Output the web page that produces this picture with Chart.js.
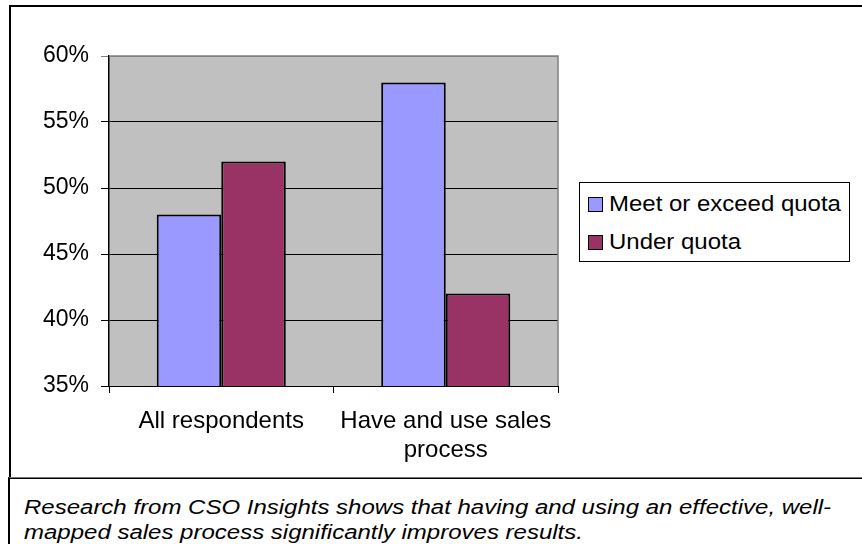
<!DOCTYPE html>
<html>
<head>
<meta charset="utf-8">
<script src="https://cdn.jsdelivr.net/npm/chart.js@4.4.0/dist/chart.umd.min.js"></script>
<style>
  body { margin: 0; background: #fff; width: 862px; height: 544px; overflow: hidden; position: relative;
         font-family: "Liberation Sans", Arial, sans-serif; }
  #frame { position: absolute; left: 9px; top: 5px; width: 870px; height: 470px; border: 2px solid #000; border-right: none; }
  #captionBox { position: absolute; left: 8px; top: 477px; width: 870px; height: 80px; border-left: 2px solid #000; border-top: 1px solid #777; }
  #caption { position: absolute; left: 24px; top: 495px; font-style: italic; font-size: 20px; line-height: 25px; color: #000;
             white-space: nowrap; transform: scaleX(1.2); transform-origin: 0 0; }
  #chartWrap { position: absolute; left: 0; top: 0; width: 862px; height: 476px; }
  #legend { position: absolute; left: 579px; top: 182px; width: 269px; height: 78px; border: 1px solid #000; background: #fff; }
  .item { position: absolute; left: 8px; height: 24px; line-height: 24px; font-size: 22px; color: #000; white-space: nowrap; }
  .swatch { display: inline-block; width: 13px; height: 13px; border: 1px solid #000; vertical-align: -1px; margin-right: 6px; }
  .txt { display: inline-block; transform: scaleX(1.09); transform-origin: 0 50%; }
</style>
</head>
<body>
<div id="frame"></div>
<div id="captionBox"></div>
<div id="caption">Research from CSO Insights shows that having and using an effective, well-<br>mapped sales process significantly improves results.</div>
<div id="chartWrap"><canvas id="quotaChart" width="862" height="476"></canvas></div>
<div id="legend"></div>
<script>
// Chart data
const categories = ['All respondents', ['Have and use sales', 'process']];
const seriesNames = ['Meet or exceed quota', 'Under quota'];
const meetQuota = [48, 58];
const underQuota = [52, 42];
const yTicks = [35, 40, 45, 50, 55, 60];

const FONT = '"Liberation Sans", Arial, sans-serif';

// Grey plot background + grey top/right edge
const plotFrame = {
    id: 'plotFrame',
    beforeDraw(chart) {
        const a = chart.chartArea;
        const ctx = chart.ctx;
        ctx.save();
        ctx.fillStyle = '#C0C0C0';
        ctx.fillRect(a.left, a.top, a.right - a.left, a.bottom - a.top);
        ctx.restore();
    },
    afterDraw(chart) {
        const a = chart.chartArea;
        const ctx = chart.ctx;
        ctx.save();
        ctx.strokeStyle = '#808080';
        ctx.lineWidth = 1.5;
        ctx.beginPath();
        ctx.moveTo(a.left, a.top);
        ctx.lineTo(a.right, a.top);
        ctx.lineTo(a.right, a.bottom);
        ctx.stroke();
        ctx.restore();
    }
};

const chart = new Chart(document.getElementById('quotaChart'), {
    type: 'bar',
    data: {
        labels: categories,
        datasets: [
            {
                label: seriesNames[0],
                data: meetQuota,
                backgroundColor: '#9999FF',
                borderColor: '#000',
                borderWidth: 2,
                borderSkipped: false
            },
            {
                label: seriesNames[1],
                data: underQuota,
                backgroundColor: '#993366',
                borderColor: '#000',
                borderWidth: 2,
                borderSkipped: false
            }
        ]
    },
    options: {
        responsive: false,
        animation: false,
        datasets: { bar: { categoryPercentage: 0.575, barPercentage: 1 } },
        layout: { padding: { top: 56, right: 304, bottom: 0, left: 0 } },
        plugins: {
            legend: { display: false },
            tooltip: { enabled: false }
        },
        scales: {
            x: {
                grid: { offset: true, drawOnChartArea: false, color: '#000', tickLength: 7 },
                border: { color: '#000', width: 1 },
                ticks: {
                    color: '#000',
                    font: { family: FONT, size: 24, lineHeight: 1.2 },
                    padding: 14,
                    maxRotation: 0,
                    autoSkip: false
                },
                afterFit: (s) => { s.height = 90; }
            },
            y: {
                min: yTicks[0],
                max: yTicks[yTicks.length - 1],
                ticks: {
                    stepSize: 5,
                    color: '#000',
                    font: { family: FONT, size: 23 },
                    padding: 12,
                    callback: (v) => v + '%'
                },
                grid: {
                    color: (c) => (c.tick && c.tick.value === yTicks[yTicks.length - 1]) ? '#808080' : '#000',
                    tickLength: 8
                },
                border: { color: '#000', width: 1.5 },
                afterFit: (s) => { s.width = 109; }
            }
        }
    },
    plugins: [plotFrame]
});

// Legend built from the chart's datasets
const legend = document.getElementById('legend');
chart.data.datasets.forEach((ds, i) => {
    const item = document.createElement('div');
    item.className = 'item';
    item.style.top = (9 + i * 38) + 'px';
    item.innerHTML = `<span class="swatch" style="background:${ds.backgroundColor}"></span><span class="txt">${ds.label}</span>`;
    legend.appendChild(item);
});
</script>
</body>
</html>
